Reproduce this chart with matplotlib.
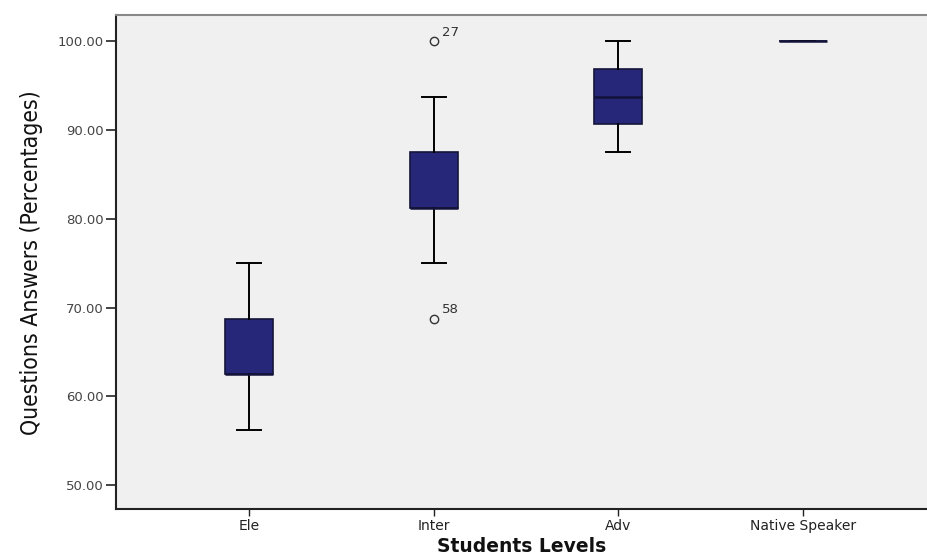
import matplotlib
matplotlib.use("Agg")
import matplotlib.pyplot as plt

categories = ["Ele", "Inter", "Adv", "Native Speaker"]
q1 = [62.5, 81.25, 90.625, 100.0]
median = [62.5, 81.25, 93.75, 100.0]
q3 = [68.75, 87.5, 96.875, 100.0]
whisker_low = [56.25, 75.0, 87.5, 100.0]
whisker_high = [75.0, 93.75, 100.0, 100.0]
outliers = [[], [100.0, 68.75], [], []]
outlier_labels = [[], ["27", "58"], [], []]
yticks = [50, 60, 70, 80, 90, 100]

fig = plt.figure(figsize=(9.27, 5.56), dpi=100)
fig.patch.set_facecolor("white")
ax = fig.add_axes([0.125, 0.0845, 0.875, 0.888])
ax.set_facecolor("#f0f0f0")

stats = []
for i, c in enumerate(categories):
    stats.append(dict(label=c, q1=q1[i], med=median[i], q3=q3[i],
                      whislo=whisker_low[i], whishi=whisker_high[i],
                      fliers=outliers[i]))

positions = list(range(len(categories)))
ax.bxp(stats, positions=positions, widths=0.26, patch_artist=True,
       showfliers=True,
       boxprops=dict(facecolor="#27277a", edgecolor="#15153a", linewidth=1.2),
       medianprops=dict(color="#12123a", linewidth=1.8),
       whiskerprops=dict(color="black", linewidth=1.4),
       capprops=dict(color="black", linewidth=1.4),
       capwidths=0.13,
       flierprops=dict(marker="o", markersize=6, markerfacecolor="none",
                       markeredgecolor="#333333", markeredgewidth=1.0))

for i in range(len(categories)):
    for v, lab in zip(outliers[i], outlier_labels[i]):
        ax.annotate(lab, (positions[i], v), xytext=(6, 4), textcoords="offset points",
                    fontsize=9.5, color="#333333", family="DejaVu Sans")

ax.set_xlim(-0.72, 3.67)
ax.set_ylim(47.3, 102.93)
ax.set_yticks(yticks)
ax.set_yticklabels([f"{t:.2f}" for t in yticks], fontsize=9.5, color="#444444")
ax.set_xticks(positions)
ax.set_xticklabels(categories, fontsize=10, color="#222222")
ax.tick_params(axis="y", direction="out", length=7, width=1.2, color="#222222", pad=2)
ax.tick_params(axis="x", direction="out", length=5, width=1.0, color="#222222", pad=2)

ax.spines["right"].set_visible(False)
ax.spines["top"].set_color("#888888")
ax.spines["top"].set_linewidth(1.5)
ax.spines["left"].set_linewidth(1.5)
ax.spines["bottom"].set_linewidth(1.5)
ax.spines["left"].set_color("#222222")
ax.spines["bottom"].set_color("#222222")

ax.set_ylabel("Questions Answers (Percentages)", fontsize=16.5,
              family="DejaVu Sans", fontstretch="condensed", fontweight="normal",
              color="#111111", labelpad=10)
ax.set_xlabel("Students Levels", fontsize=13.5, fontweight="bold",
              family="DejaVu Sans", color="#111111", labelpad=3)

fig.savefig("out.png", dpi=100)
